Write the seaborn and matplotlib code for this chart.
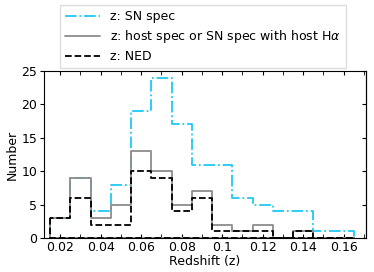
import numpy as np
import matplotlib
matplotlib.use("Agg")
import matplotlib.pyplot as plt
import seaborn as sns

# bin edges of the redshift histogram (width 0.01)
bin_edges = [0.015, 0.025, 0.035, 0.045, 0.055, 0.065, 0.075, 0.085,
             0.095, 0.105, 0.115, 0.125, 0.135, 0.145, 0.155, 0.165]
bin_centers = [0.02, 0.03, 0.04, 0.05, 0.06, 0.07, 0.08, 0.09,
               0.10, 0.11, 0.12, 0.13, 0.14, 0.15, 0.16]

# counts per bin
sn_spec = [3, 9, 4, 8, 19, 24, 17, 11, 11, 6, 5, 4, 4, 1, 1]
host_spec = [3, 9, 3, 5, 13, 10, 5, 7, 2, 1, 2, 0, 1, 0, 0]
ned = [3, 6, 2, 2, 10, 9, 4, 6, 1, 1, 1, 0, 1, 0, 0]

labels = ["z: SN spec", r"z: host spec or SN spec with host H$\alpha$", "z: NED"]
colors = ['#1ec8f5', '#8c8c8c', 'black']
styles = ['-.', '-', '--']

sns.set_style("ticks")
plt.rcParams['font.family'] = ['DejaVu Sans']
plt.rcParams['font.size'] = 9
plt.rcParams['text.color'] = 'black'
plt.rcParams['axes.labelcolor'] = 'black'
plt.rcParams['xtick.color'] = 'black'
plt.rcParams['ytick.color'] = 'black'
plt.rcParams['axes.edgecolor'] = 'black'

fig = plt.figure(figsize=(3.74, 2.72), dpi=100)
ax = fig.add_axes([44 / 374, 1 - 238 / 272, 322 / 374, 167 / 272])

for counts, lab, col, ls in zip([sn_spec, host_spec, ned], labels, colors, styles):
    # filled step with an invisible face gives the closed outline of a step histogram
    sns.histplot(x=bin_centers, weights=counts, bins=bin_edges, element='step', fill=True,
                 color=col, facecolor='none', edgecolor=col, linestyle=ls, linewidth=1.3, ax=ax)
    ax.plot([], [], color=col, linestyle=ls, linewidth=1.3, label=lab)

ax.set_xlim(0.012, 0.171)
ax.set_ylim(0, 25)
ax.set_xticks([0.02, 0.04, 0.06, 0.08, 0.1, 0.12, 0.14, 0.16])
ax.set_xticklabels(['0.02', '0.04', '0.06', '0.08', '0.1', '0.12', '0.14', '0.16'])
ax.set_xticks(np.arange(0.02, 0.171, 0.01), minor=True)
ax.set_yticks([0, 5, 10, 15, 20, 25])
ax.tick_params(axis='both', labelsize=9, width=0.8, pad=2)
ax.tick_params(axis='x', which='both', direction='in', top=True, length=3)
ax.tick_params(axis='y', which='both', direction='out', right=False, length=3)
ax2 = ax.secondary_yaxis('right')
ax2.set_yticks([0, 5, 10, 15, 20, 25])
ax2.tick_params(direction='in', length=3, labelright=False)
ax.set_xlabel("Redshift (z)", fontsize=9, labelpad=1)
ax.set_ylabel("Number", fontsize=9, labelpad=2)

fig.legend(loc='upper left', bbox_to_anchor=(60 / 374, 1 - 5 / 272), fontsize=9,
           frameon=True, fancybox=False, edgecolor='#dddddd', framealpha=1,
           handlelength=2.8, borderpad=0.4, labelspacing=0.4, borderaxespad=0)

fig.savefig("out.png", dpi=100)
